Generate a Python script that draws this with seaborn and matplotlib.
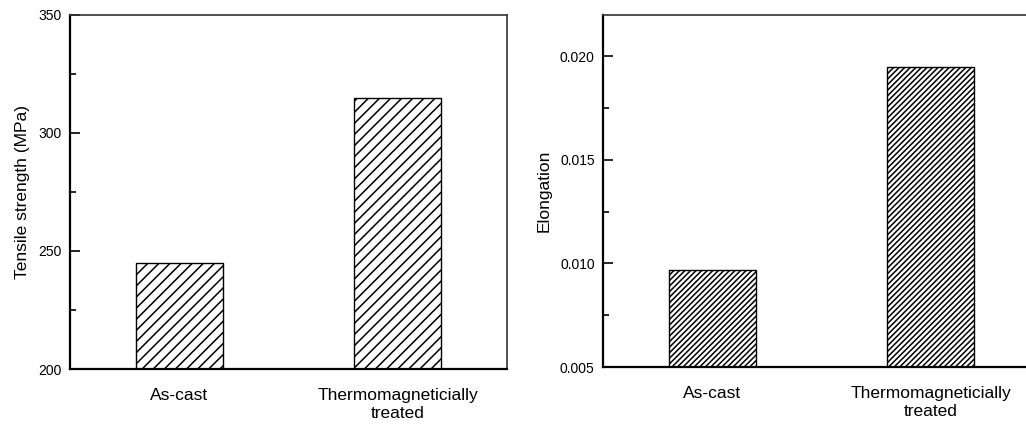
import matplotlib
matplotlib.use("Agg")
import matplotlib.pyplot as plt
import seaborn as sns
from matplotlib.ticker import MultipleLocator

# data
categories = ["As-cast", "Thermomagneticially\ntreated"]
tensile_mpa = [245, 315]
elongation = [0.0097, 0.0195]

sns.set_style("ticks")
plt.rcParams["font.family"] = ["Liberation Sans", "DejaVu Sans"]
plt.rcParams["text.color"] = "black"
plt.rcParams["axes.labelcolor"] = "black"
plt.rcParams["xtick.color"] = "black"
plt.rcParams["ytick.color"] = "black"
plt.rcParams["hatch.linewidth"] = 1.1

fig = plt.figure(figsize=(10.26, 4.33), dpi=100)
ax1 = fig.add_axes([0.0682, 0.1478, 0.426, 0.8176])
ax2 = fig.add_axes([0.5877, 0.1524, 0.426, 0.8130])


def style_axis(ax, hatch, ylab, ylim, major, minor, fmt):
    for bar in ax.patches:
        bar.set_hatch(hatch)
        bar.set_facecolor("white")
        bar.set_edgecolor("black")
        bar.set_linewidth(1.0)
    ax.set_xlim(-0.5, 1.5)
    ax.set_ylim(*ylim)
    ax.yaxis.set_major_locator(MultipleLocator(major))
    ax.yaxis.set_minor_locator(MultipleLocator(minor))
    ax.yaxis.set_major_formatter(fmt)
    ax.tick_params(axis="y", which="major", direction="in", length=7, width=1.2,
                   labelsize=10, pad=6)
    ax.tick_params(axis="y", which="minor", direction="in", length=4, width=1.2)
    ax.tick_params(axis="x", length=0, labelsize=12.5, pad=14)
    ax.set_xlabel("")
    ax.set_ylabel(ylab, fontsize=12.5, labelpad=6)
    for side in ["left", "bottom"]:
        ax.spines[side].set_linewidth(1.6)
        ax.spines[side].set_color("black")
    for side in ["top", "right"]:
        ax.spines[side].set_linewidth(1.2)
        ax.spines[side].set_color("#333333")


sns.barplot(x=categories, y=tensile_mpa, color="white", edgecolor="black",
            width=0.4, ax=ax1)
style_axis(ax1, "///", "Tensile strength (MPa)", (200, 350), 50, 25, "{x:.0f}")

sns.barplot(x=categories, y=elongation, color="white", edgecolor="black",
            width=0.4, ax=ax2)
style_axis(ax2, "//////", "Elongation", (0.005, 0.022), 0.005, 0.0025, "{x:.3f}")

fig.savefig("out.png", dpi=100)
